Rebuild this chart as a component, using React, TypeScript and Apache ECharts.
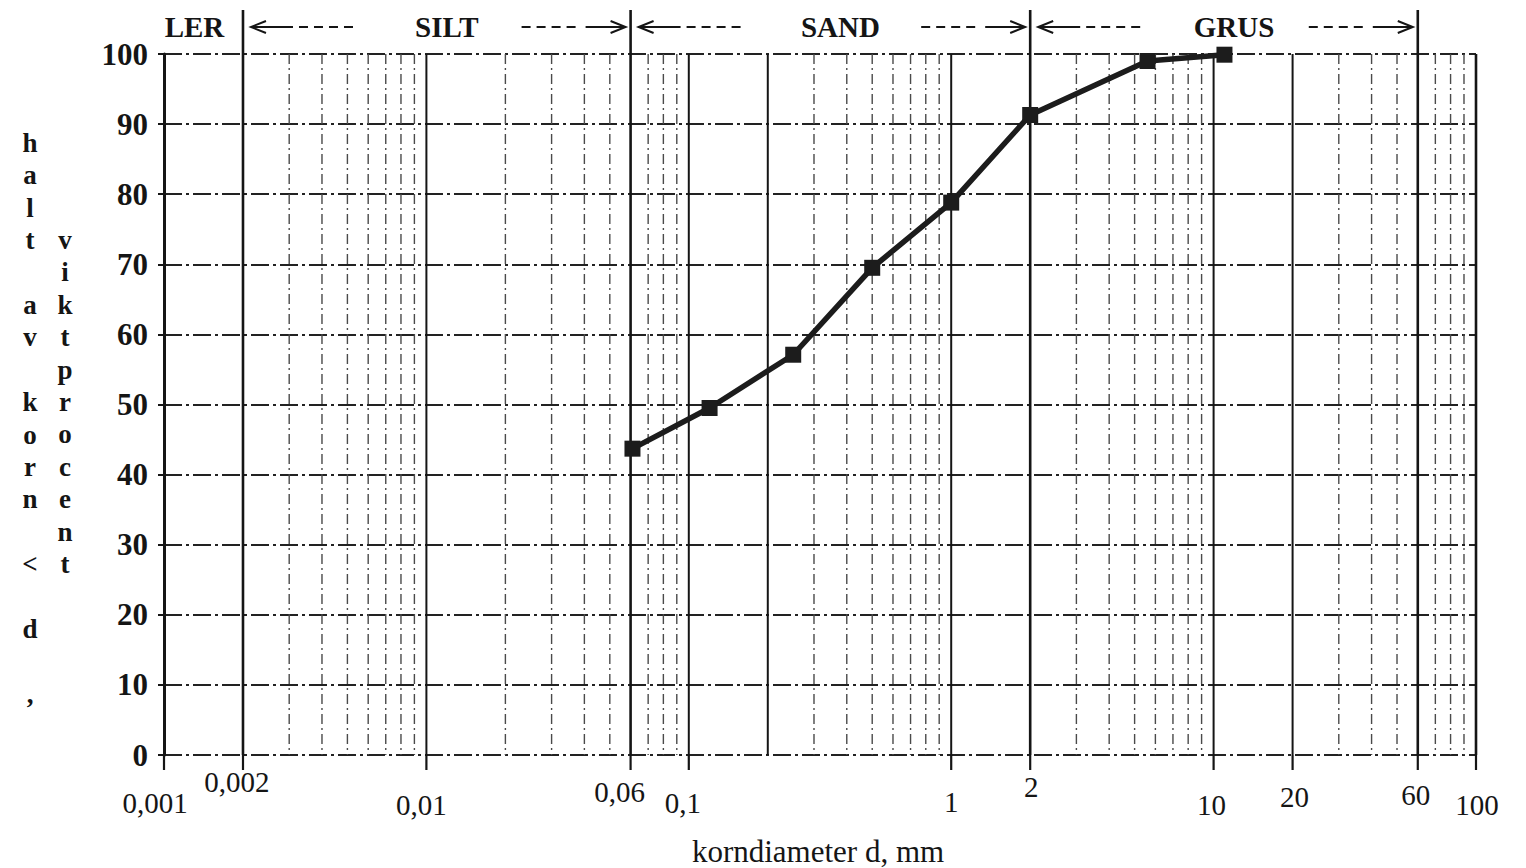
import React, { useEffect, useRef } from 'react';
import * as echarts from 'echarts';

// ---- data ----
const diameters = [0.061, 0.12, 0.25, 0.5, 1, 2, 5.6, 11];
const passing = [43.7, 49.5, 57.1, 69.5, 78.8, 91.3, 99.0, 99.9];

const xTickValues = [0.001, 0.002, 0.01, 0.06, 0.1, 1, 2, 10, 20, 60, 100];
const xTickLabels = ['0,001', '0,002', '0,01', '0,06', '0,1', '1', '2', '10', '20', '60', '100'];

const fractionNames = ['LER', 'SILT', 'SAND', 'GRUS'];
const fractionFrom = [0.001, 0.002, 0.06, 2];
const fractionTo = [0.002, 0.06, 2, 60];

const yTitleCol1 = ['h', 'a', 'l', 't', '', 'a', 'v', '', 'k', 'o', 'r', 'n', '', '<', '', 'd', '', ','];
const yTitleCol2 = ['v', 'i', 'k', 't', 'p', 'r', 'o', 'c', 'e', 'n', 't'];
const xTitle = 'korndiameter d, mm';

// ---- layout / style (not data) ----
const labelShift: number[][] = [
  [-9, 48], [-6, 27], [-5, 50], [-11, 37], [-6, 48], [0, 47], [1, 32], [-2, 50], [2, 42], [-2, 40], [1, 50],
];
const nameShift = [-9, 10, 10, 10];
const INK = '#151515';
const SERIF = '"Liberation Serif", "DejaVu Serif", serif';

const majorLines = [0.002, 0.01, 0.06, 0.1, 0.2, 1, 2, 10, 20, 60, 100];

export default function App() {
  const ref = useRef<HTMLDivElement>(null);
  useEffect(() => {
    document.body.style.margin = '0';
    const chart = echarts.init(ref.current!, null, { renderer: 'svg' });
    chart.setOption({
      animation: false,
      backgroundColor: '#ffffff',
      grid: { left: 164, right: 50, top: 54, bottom: 113, outerBoundsMode: 'none' },
      xAxis: {
        type: 'log',
        logBase: 10,
        min: 0.001,
        max: 100,
        axisLine: { show: false },
        axisTick: { show: false },
        axisLabel: { show: false },
        splitLine: { show: false },
      },
      yAxis: {
        type: 'value',
        min: 0,
        max: 100,
        interval: 10,
        axisLine: { show: true, lineStyle: { color: INK, width: 3 } },
        axisTick: { show: true, length: 6, lineStyle: { color: INK, width: 2 } },
        axisLabel: {
          margin: 16,
          color: INK,
          fontFamily: SERIF,
          fontWeight: 'bold',
          fontSize: 31,
        },
        splitLine: {
          show: true,
          lineStyle: { color: '#222', width: 2, type: [18, 4, 3, 4] },
        },
      },
      series: [
        {
          type: 'line',
          z: 10,
          data: diameters.map((d, i) => [d, passing[i]]),
          symbol: 'rect',
          symbolSize: 16,
          lineStyle: { color: '#1c1c1c', width: 5.5 },
          itemStyle: { color: '#1c1c1c' },
        },
      ],
    });

    const px = (x: number, y: number) => chart.convertToPixel({ gridIndex: 0 }, [x, y]) as number[];
    const g: any[] = [];
    const [, yTop] = px(1, 100);
    const [, yBot] = px(1, 0);

    // vertical grid lines of the log paper
    for (let e = -3; e <= 1; e++) {
      for (let k = 2; k <= 9; k++) {
        const v = +(k * Math.pow(10, e)).toPrecision(3);
        if (majorLines.some((m) => Math.abs(m - v) / v < 1e-6)) continue;
        const [x] = px(v, 0);
        g.push({
          type: 'line', z: 1, silent: true,
          shape: { x1: x, y1: yTop, x2: x, y2: yBot },
          style: { stroke: '#4a4a4a', lineWidth: 1.4, lineDash: [10, 4, 2, 4] },
        });
      }
    }
    majorLines.forEach((v) => {
      const [x] = px(v, 0);
      const isBound = fractionTo.includes(v);
      g.push({
        type: 'line', z: 2, silent: true,
        shape: { x1: x, y1: isBound ? 10 : yTop, x2: x, y2: yBot },
        style: { stroke: INK, lineWidth: v === 100 || isBound ? 2.6 : 2 },
      });
    });
    // ticks below axis + labels
    xTickValues.forEach((v, i) => {
      const [x] = px(v, 0);
      g.push({
        type: 'line', z: 2, silent: true,
        shape: { x1: x, y1: yBot, x2: x, y2: yBot + 15 },
        style: { stroke: INK, lineWidth: 2.2 },
      });
      g.push({
        type: 'text', z: 3, silent: true,
        x: x + labelShift[i][0], y: yBot + labelShift[i][1],
        style: {
          text: xTickLabels[i], fill: INK, font: `29px ${SERIF}`,
          align: 'center', verticalAlign: 'middle',
        },
      });
    });
    // x title
    const [xL] = px(0.001, 0);
    const [xR] = px(100, 0);
    g.push({
      type: 'text', z: 3, silent: true,
      x: (xL + xR) / 2 - 2, y: 851,
      style: { text: xTitle, fill: INK, font: `31px ${SERIF}`, align: 'center', verticalAlign: 'middle' },
    });
    // fraction names and arrows
    const ay = 27;
    fractionNames.forEach((name, i) => {
      const [a] = px(fractionFrom[i], 0);
      const [b] = px(fractionTo[i], 0);
      const [c] = px(Math.sqrt(fractionFrom[i] * fractionTo[i]), 0);
      g.push({
        type: 'text', z: 3, silent: true,
        x: c + nameShift[i], y: ay,
        style: { text: name, fill: INK, font: `bold 29px ${SERIF}`, align: 'center', verticalAlign: 'middle' },
      });
      if (i === 0) return;
      const s = a + 8;
      const e1 = s + 102;
      g.push({ type: 'polyline', z: 3, silent: true, shape: { points: [[s + 15, ay - 6], [s, ay], [s + 15, ay + 6]] }, style: { stroke: INK, lineWidth: 2, fill: null } });
      g.push({ type: 'line', z: 3, silent: true, shape: { x1: s, y1: ay, x2: s + 42, y2: ay }, style: { stroke: INK, lineWidth: 2 } });
      g.push({ type: 'line', z: 3, silent: true, shape: { x1: s + 48, y1: ay, x2: e1, y2: ay }, style: { stroke: INK, lineWidth: 2, lineDash: [9, 6] } });
      const re = b - 5;
      const rs = re - 104;
      g.push({ type: 'line', z: 3, silent: true, shape: { x1: rs, y1: ay, x2: re - 46, y2: ay }, style: { stroke: INK, lineWidth: 2, lineDash: [9, 6] } });
      g.push({ type: 'line', z: 3, silent: true, shape: { x1: re - 40, y1: ay, x2: re, y2: ay }, style: { stroke: INK, lineWidth: 2 } });
      g.push({ type: 'polyline', z: 3, silent: true, shape: { points: [[re - 15, ay - 6], [re, ay], [re - 15, ay + 6]] }, style: { stroke: INK, lineWidth: 2, fill: null } });
    });
    // y title columns
    const step = 32.4;
    yTitleCol1.forEach((ch, i) => {
      if (!ch) return;
      g.push({
        type: 'text', z: 3, silent: true, x: 30, y: 143 + i * step,
        style: { text: ch, fill: INK, font: `bold 27px ${SERIF}`, align: 'center', verticalAlign: 'middle' },
      });
    });
    yTitleCol2.forEach((ch, i) => {
      g.push({
        type: 'text', z: 3, silent: true, x: 65, y: 240 + i * step,
        style: { text: ch, fill: INK, font: `bold 27px ${SERIF}`, align: 'center', verticalAlign: 'middle' },
      });
    });

    chart.setOption({ graphic: g });
    return () => chart.dispose();
  }, []);

  return (
    <div
      ref={ref}
      style={{ position: 'fixed', left: 0, top: 0, width: 1526, height: 868, background: '#fff' }}
    />
  );
}
